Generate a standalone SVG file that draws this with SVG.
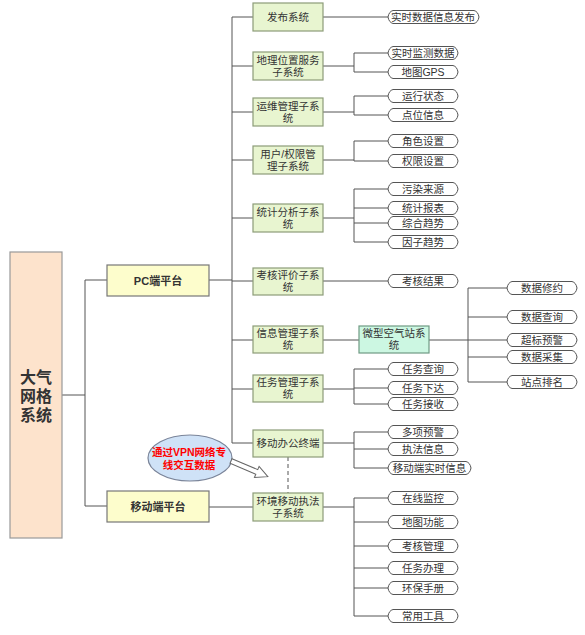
<svg xmlns="http://www.w3.org/2000/svg" width="585" height="635" viewBox="0 0 585 635">
<style>
text{font-family:"Liberation Sans","Noto Sans CJK SC",sans-serif;text-anchor:middle;dominant-baseline:central;fill:#333}
.sub rect{fill:#e8f5d0;stroke:#8c9c78;stroke-width:1.2}
.sub text{font-size:10.5px}
.leaf use{fill:#fff;stroke:#555;stroke-width:1}
.leaf text{font-size:10.5px}
.plat rect{fill:#fdfdcc;stroke:#777;stroke-width:1.2}
.plat text{font-size:11px;font-weight:bold}
#conn path{fill:none;stroke:#555;stroke-width:1}
</style>
<defs><path id="lf70" d="M5 0H65Q69 1 70 6.5Q69 12 65 13H5Q1 12 0 6.5Q1 1 5 0Z"/><path id="lf91" d="M5 0H86Q90 1 91 6.5Q90 12 86 13H5Q1 12 0 6.5Q1 1 5 0Z"/><path id="lf83" d="M5 0H78Q82 1 83 6.5Q82 12 78 13H5Q1 12 0 6.5Q1 1 5 0Z"/></defs>
<g id="conn">
<path d="M62 395H85M85 280V506M85 280H107M85 506H107"/>
<path d="M209 280H232M232 17V443M232 17H253M232 66H253M232 112H253M232 160H253M232 218H253M232 281H253M232 340H253M232 389H253M232 443H253M209 507H253"/>
<path d="M322 17H388"/>
<path d="M322 66H354M354 53V72M354 53H388M354 72H388"/>
<path d="M322 112H354M354 96V115M354 96H388M354 115H388"/>
<path d="M322 160H354M354 141V161M354 141H388M354 161H388"/>
<path d="M322 218H354M354 189V242M354 189H388M354 208H388M354 223H388M354 242H388"/>
<path d="M322 281H388"/>
<path d="M322 340H359M429 340H468M468 288V382M468 288H507M468 317H507M468 340H507M468 357H507M468 382H507"/>
<path d="M322 389H354M354 369V404M354 369H388M354 388H388M354 404H388"/>
<path d="M322 443H354M354 432V468M354 432H388M354 449H388M354 468H388"/>
<path d="M322 507H354M354 498V616M354 498H388M354 522H388M354 546H388M354 568H388M354 588H388M354 616H388"/>
<path d="M288 457V493" stroke-dasharray="4,3"/>
</g>
<g id="main"><rect x="10" y="252" width="52" height="286" fill="#fde3cc" stroke="#999" stroke-width="1.2"/>
<text font-size="16" font-weight="bold"><tspan x="36" y="377">大气</tspan><tspan x="36" y="396">网格</tspan><tspan x="36" y="415">系统</tspan></text></g>
<g id="pc" class="plat"><rect x="107" y="265" width="102" height="31"/><text x="158" y="281">PC端平台</text></g>
<g id="mobile" class="plat"><rect x="107" y="491" width="102" height="31"/><text x="158" y="507">移动端平台</text></g>
<g id="s1" class="sub"><rect x="253" y="3" width="70" height="28"/><text x="288" y="17">发布系统</text></g>
<g id="s2" class="sub"><rect x="253" y="52" width="70" height="28"/><text><tspan x="288" y="60">地理位置服务</tspan><tspan x="288" y="72">子系统</tspan></text></g>
<g id="s3" class="sub"><rect x="253" y="98" width="70" height="28"/><text><tspan x="288" y="106">运维管理子系</tspan><tspan x="288" y="118">统</tspan></text></g>
<g id="s4" class="sub"><rect x="253" y="146" width="70" height="28"/><text><tspan x="288" y="154">用户/权限管</tspan><tspan x="288" y="166">理子系统</tspan></text></g>
<g id="s5" class="sub"><rect x="253" y="204" width="70" height="28"/><text><tspan x="288" y="212">统计分析子系</tspan><tspan x="288" y="224">统</tspan></text></g>
<g id="s6" class="sub"><rect x="253" y="268" width="70" height="27"/><text><tspan x="288" y="275">考核评价子系</tspan><tspan x="288" y="287">统</tspan></text></g>
<g id="s7" class="sub"><rect x="253" y="326" width="70" height="27"/><text><tspan x="288" y="333">信息管理子系</tspan><tspan x="288" y="345">统</tspan></text></g>
<g id="s8" class="sub"><rect x="253" y="375" width="70" height="27"/><text><tspan x="288" y="382">任务管理子系</tspan><tspan x="288" y="394">统</tspan></text></g>
<g id="s9" class="sub"><rect x="253" y="430" width="70" height="27"/><text x="288" y="443">移动办公终端</text></g>
<g id="s10" class="sub"><rect x="253" y="493" width="70" height="28"/><text><tspan x="288" y="501">环境移动执法</tspan><tspan x="288" y="513">子系统</tspan></text></g>
<g id="micro"><rect x="359" y="326" width="70" height="27" fill="#ccf7e2" stroke="#6f9a84" stroke-width="1.2"/><text font-size="10.5"><tspan x="394" y="333">微型空气站系</tspan><tspan x="394" y="345">统</tspan></text></g>
<g id="l1" class="leaf"><use href="#lf91" x="388" y="10.5"/><text x="433" y="17">实时数据信息发布</text></g>
<g id="l2" class="leaf"><use href="#lf70" x="388" y="46.5"/><text x="423" y="53">实时监测数据</text></g>
<g id="l3" class="leaf"><use href="#lf70" x="388" y="65.5"/><text x="423" y="72">地图GPS</text></g>
<g id="l4" class="leaf"><use href="#lf70" x="388" y="89.5"/><text x="423" y="96">运行状态</text></g>
<g id="l5" class="leaf"><use href="#lf70" x="388" y="108.5"/><text x="423" y="115">点位信息</text></g>
<g id="l6" class="leaf"><use href="#lf70" x="388" y="134.5"/><text x="423" y="141">角色设置</text></g>
<g id="l7" class="leaf"><use href="#lf70" x="388" y="154.5"/><text x="423" y="161">权限设置</text></g>
<g id="l8" class="leaf"><use href="#lf70" x="388" y="182.5"/><text x="423" y="189">污染来源</text></g>
<g id="l9" class="leaf"><use href="#lf70" x="388" y="201.5"/><text x="423" y="208">统计报表</text></g>
<g id="l10" class="leaf"><use href="#lf70" x="388" y="216.5"/><text x="423" y="223">综合趋势</text></g>
<g id="l11" class="leaf"><use href="#lf70" x="388" y="235.5"/><text x="423" y="242">因子趋势</text></g>
<g id="l12" class="leaf"><use href="#lf70" x="388" y="274.5"/><text x="423" y="281">考核结果</text></g>
<g id="l13" class="leaf"><use href="#lf70" x="507" y="281.5"/><text x="542" y="288">数据修约</text></g>
<g id="l14" class="leaf"><use href="#lf70" x="507" y="310.5"/><text x="542" y="317">数据查询</text></g>
<g id="l15" class="leaf"><use href="#lf70" x="507" y="333.5"/><text x="542" y="340">超标预警</text></g>
<g id="l16" class="leaf"><use href="#lf70" x="507" y="350.5"/><text x="542" y="357">数据采集</text></g>
<g id="l17" class="leaf"><use href="#lf70" x="507" y="375.5"/><text x="542" y="382">站点排名</text></g>
<g id="l18" class="leaf"><use href="#lf70" x="388" y="362.5"/><text x="423" y="369">任务查询</text></g>
<g id="l19" class="leaf"><use href="#lf70" x="388" y="381.5"/><text x="423" y="388">任务下达</text></g>
<g id="l20" class="leaf"><use href="#lf70" x="388" y="397.5"/><text x="423" y="404">任务接收</text></g>
<g id="l21" class="leaf"><use href="#lf70" x="388" y="425.5"/><text x="423" y="432">多项预警</text></g>
<g id="l22" class="leaf"><use href="#lf70" x="388" y="442.5"/><text x="423" y="449">执法信息</text></g>
<g id="l23" class="leaf"><use href="#lf83" x="388" y="461.5"/><text x="429.5" y="468">移动端实时信息</text></g>
<g id="l24" class="leaf"><use href="#lf70" x="388" y="491.5"/><text x="423" y="498">在线监控</text></g>
<g id="l25" class="leaf"><use href="#lf70" x="388" y="515.5"/><text x="423" y="522">地图功能</text></g>
<g id="l26" class="leaf"><use href="#lf70" x="388" y="539.5"/><text x="423" y="546">考核管理</text></g>
<g id="l27" class="leaf"><use href="#lf70" x="388" y="561.5"/><text x="423" y="568">任务办理</text></g>
<g id="l28" class="leaf"><use href="#lf70" x="388" y="581.5"/><text x="423" y="588">环保手册</text></g>
<g id="l29" class="leaf"><use href="#lf70" x="388" y="609.5"/><text x="423" y="616">常用工具</text></g>
<g id="vpn"><ellipse cx="190" cy="458" rx="42" ry="23" fill="#cfe2f7" stroke="#7a8499" stroke-width="1.2"/>
<text font-size="10.5" font-weight="bold" style="fill:#ff0000"><tspan x="189" y="452">通过VPN网络专</tspan><tspan x="189" y="465">线交互数据</tspan></text>
<path d="M0 -2.5L28 -2.5L28 -6L40 0L28 6L28 2.5L0 2.5Z" transform="translate(231 461) rotate(23)" fill="#fff" stroke="#666" stroke-width="1"/></g>
</svg>
